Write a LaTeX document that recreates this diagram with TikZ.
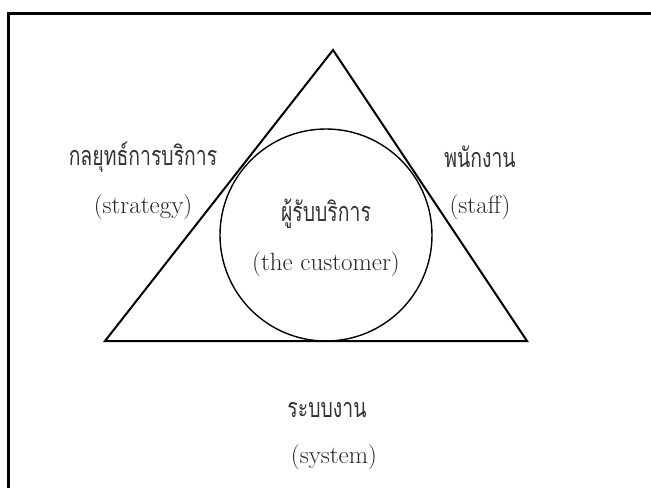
\documentclass[tikz,border=0pt]{standalone}
\usepackage{graphicx}
\usepackage{fontspec}
\newfontfamily\thaifont[Script=Thai]{Loma}
\newcommand{\thtall}[1]{\scalebox{0.97}[1.35]{#1}}
\begin{document}
\begin{tikzpicture}[x=1pt,y=-1pt,
  lbl/.style={font=\fontsize{25}{29}\selectfont, inner sep=0pt, text=black!85},
  thlbl/.style={font=\thaifont\fontsize{20}{24}\selectfont, inner sep=0pt, text=black!80}]
\useasboundingbox (0,0) rectangle (651,488);
\draw[line width=3pt] (8.5,488) -- (8.5,13) -- (651,13);
\coordinate (apex) at (333,50);
\coordinate (bl) at (105,341);
\coordinate (br) at (527,341);
\draw[line width=2pt, line join=miter] (apex) -- (bl) -- (br) -- cycle;
\node[draw, circle, line width=1.4pt, minimum size=212pt, inner sep=0pt] (cust) at (326,235) {};
\node[thlbl] (strat) at (143,157) {\thtall{กลยุทธ์การบริการ}};
\node[lbl] (stratE) at (143,207) {(strategy)};
\node[thlbl] (staff) at (480,157) {\thtall{พนักงาน}};
\node[lbl] (staffE) at (480,207) {(staff)};
\node[thlbl] (custT) at (326,214) {\thtall{ผู้รับบริการ}};
\node[lbl] (custE) at (326,264) {(the customer)};
\node[thlbl] (sys) at (327,410) {\thtall{ระบบงาน}};
\node[lbl] (sysE) at (334,457) {(system)};
\end{tikzpicture}
\end{document}
